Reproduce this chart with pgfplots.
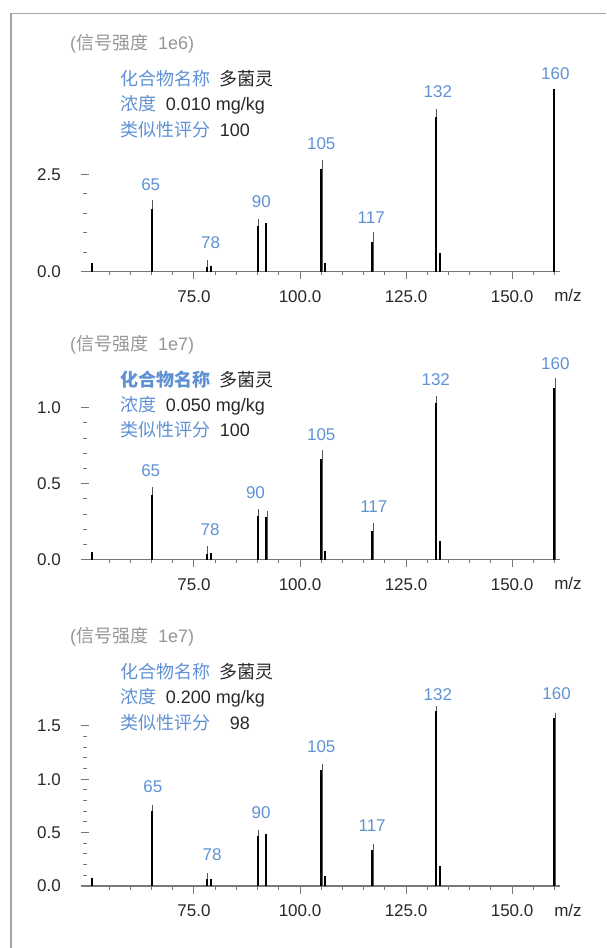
\documentclass[border=0pt]{standalone}
\usepackage{fontspec}
\setmainfont{Liberation Sans}
\newfontfamily\cjk{Noto Sans CJK SC}
\usepackage{pgfplots}
\pgfplotsset{compat=1.18}
\definecolor{lblue}{RGB}{95,145,212}
\definecolor{fgray}{RGB}{165,165,165}
\definecolor{hgray}{RGB}{150,150,150}
\definecolor{txt}{RGB}{40,40,40}
\definecolor{axgray}{RGB}{120,120,120}
\definecolor{pkgray}{RGB}{85,85,85}
\pgfplotsset{
 msstyle/.style={
  scale only axis, width=475pt,
  xmin=49.3, xmax=161.3, ymin=0,
  axis x line=bottom, axis y line=left,
  x axis line style={-, axgray, line width=1.2pt, shorten <=-4pt},
  y axis line style={draw=none},
  xtick={75,100,125,150},
  minor xtick={55,60,65,70,80,85,90,95,105,110,115,120,130,135,140,145,155,160},
  xtick align=outside, ytick align=center,
  major tick length=7.5pt, minor tick length=3.5pt,
  every tick/.style={axgray, line width=1pt},
  tick label style={font=\fontsize{17}{17}\selectfont, text=txt},
  xticklabel={\pgfmathprintnumber[fixed,fixed zerofill,precision=1,assume math mode=true]{\tick}},
  yticklabel={\pgfmathprintnumber[fixed,fixed zerofill,precision=1,assume math mode=true]{\tick}},
  xticklabel style={yshift=-8pt},
  yticklabel style={xshift=-17pt},
  minor y tick num=4,
  clip=false,
  xlabel={m/z},
  xlabel style={at={(axis description cs:1,0)}, anchor=center, xshift=8pt, yshift=-24pt, font=\fontsize{17}{17}\selectfont, text=txt},
 },
 blackbars/.style={ycomb, black, line width=2pt, mark=none},
 graybars/.style={ycomb, pkgray, line width=1pt, mark=none},
}
\tikzset{
 pklabel/.style={font=\fontsize{17}{17}\selectfont, text=lblue, inner sep=0pt},
 infotext/.style={anchor=west, inner sep=0pt, font=\fontsize{18}{18}\selectfont},
}
\begin{document}
\begin{tikzpicture}
% ---------- panel 1 ----------
\begin{axis}[msstyle, at={(85pt,676.3pt)}, anchor=south west, height=182.8pt, ymax=4.7, ytick={0,2.5}]
\addplot[graybars] coordinates {(65.25,1.84) (78.25,0.30) (90.25,1.35) (105.25,2.87) (117.25,1.01) (132.25,4.18)};
\addplot[blackbars] coordinates {(51,0.22) (65,1.60) (78,0.13) (79,0.15) (90,1.17) (92,1.26) (105,2.64) (106,0.22) (117,0.76) (132,3.98) (133,0.47) (160,4.69)};
\node[pklabel] at (axis cs:64.8,2.23) {65};
\node[pklabel] at (axis cs:78.9,0.756) {78};
\node[pklabel] at (axis cs:90.9,1.80) {90};
\node[pklabel] at (axis cs:105,3.28) {105};
\node[pklabel] at (axis cs:116.8,1.39) {117};
\node[pklabel] at (axis cs:132.5,4.63) {132};
\node[pklabel] at (axis cs:160.2,5.08) {160};
\end{axis}
% ---------- panel 2 ----------
\begin{axis}[msstyle, at={(85pt,388.3pt)}, anchor=south west, height=185.4pt, ymax=1.22, ytick={0,0.5,1}]
\addplot[graybars] coordinates {(65.25,0.48) (78.25,0.09) (90.25,0.333) (92.25,0.32) (105.25,0.72) (117.25,0.243) (132.25,1.077) (160.25,1.193)};
\addplot[blackbars] coordinates {(51,0.053) (65,0.426) (78,0.035) (79,0.042) (90,0.287) (92,0.283) (105,0.66) (106,0.059) (117,0.19) (132,1.03) (133,0.125) (160,1.128)};
\node[pklabel] at (axis cs:64.8,0.584) {65};
\node[pklabel] at (axis cs:78.8,0.195) {78};
\node[pklabel] at (axis cs:89.5,0.444) {90};
\node[pklabel] at (axis cs:105,0.82) {105};
\node[pklabel] at (axis cs:117.4,0.35) {117};
\node[pklabel] at (axis cs:132,1.187) {132};
\node[pklabel] at (axis cs:160.2,1.29) {160};
\end{axis}
% ---------- panel 3 ----------
\begin{axis}[msstyle, at={(85pt,62pt)}, anchor=south west, height=183.7pt, ymax=1.72, ytick={0,0.5,1,1.5}]
\addplot[graybars] coordinates {(65.25,0.76) (78.25,0.125) (90.25,0.52) (105.25,1.14) (117.25,0.39) (132.25,1.69) (160.25,1.62)};
\addplot[blackbars] coordinates {(51,0.078) (65,0.70) (78,0.066) (79,0.066) (90,0.47) (92,0.49) (105,1.086) (106,0.094) (117,0.337) (132,1.64) (133,0.187) (160,1.57)};
\node[pklabel] at (axis cs:65.3,0.928) {65};
\node[pklabel] at (axis cs:79.25,0.29) {78};
\node[pklabel] at (axis cs:90.8,0.69) {90};
\node[pklabel] at (axis cs:105,1.304) {105};
\node[pklabel] at (axis cs:117,0.565) {117};
\node[pklabel] at (axis cs:132.5,1.787) {132};
\node[pklabel] at (axis cs:160.5,1.798) {160};
\end{axis}
% ---------- texts ----------
\node[infotext, text=hgray] at (70pt,904.7pt) {({\cjk 信号强度}\hspace{10pt}1e6)};
\node[infotext] at (120.7pt,869.7pt) {{\cjk\color{lblue}化合物名称}\hspace{9pt}{\cjk\color{txt}多菌灵}};
\node[infotext] at (120.7pt,843.7pt) {{\cjk\color{lblue}浓度}\hspace{9pt}{\color{txt}0.010 mg/kg}};
\node[infotext] at (120.7pt,818.7pt) {{\cjk\color{lblue}类似性评分}\hspace{9pt}{\color{txt}100}};

\node[infotext, text=hgray] at (70pt,603pt) {({\cjk 信号强度}\hspace{10pt}1e7)};
\node[infotext] at (120.7pt,568pt) {{\cjk\bfseries\color{lblue}化合物名称}\hspace{9pt}{\cjk\color{txt}多菌灵}};
\node[infotext] at (120.7pt,542.3pt) {{\cjk\color{lblue}浓度}\hspace{9pt}{\color{txt}0.050 mg/kg}};
\node[infotext] at (120.7pt,518pt) {{\cjk\color{lblue}类似性评分}\hspace{9pt}{\color{txt}100}};

\node[infotext, text=hgray] at (70pt,311.3pt) {({\cjk 信号强度}\hspace{10pt}1e7)};
\node[infotext] at (120.7pt,276.3pt) {{\cjk\color{lblue}化合物名称}\hspace{9pt}{\cjk\color{txt}多菌灵}};
\node[infotext] at (120.7pt,250.7pt) {{\cjk\color{lblue}浓度}\hspace{9pt}{\color{txt}0.200 mg/kg}};
\node[infotext] at (120.7pt,225.7pt) {{\cjk\color{lblue}类似性评分}\hspace{9pt}{\color{txt}\phantom{1}98}};
% ---------- frame ----------
\draw[fgray, line width=1.2pt] (11pt,0pt) -- (11pt,934.7pt) -- (606pt,934.7pt);
\pgfresetboundingbox
\path[use as bounding box] (0pt,0pt) rectangle (606pt,948pt);
\end{tikzpicture}
\end{document}
